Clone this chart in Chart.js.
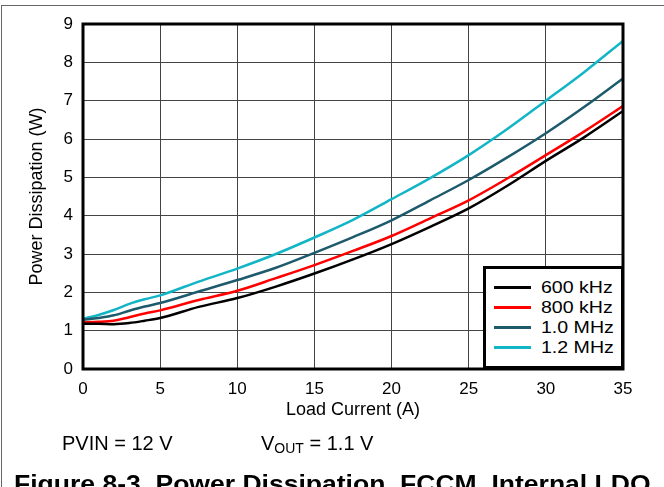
<!DOCTYPE html>
<html>
<head>
<meta charset="utf-8">
<script src="https://cdn.jsdelivr.net/npm/chart.js@4/dist/chart.umd.min.js"></script>
<style>
  body { margin: 0; background: #fff; }
  #wrap { position: relative; width: 664px; height: 487px; overflow: hidden; background: #fff;
          font-family: "Liberation Sans", Arial, sans-serif; color: #000; }
  #lineChart { position: absolute; left: 0; top: 0; }
  #frame { position: absolute; left: 1px; top: 5px; width: 700px; height: 500px;
           border-top: 1px solid #666; border-left: 1px solid #666; }
  #legendBox { position: absolute; left: 483px; top: 266px; width: 141px; height: 103px;
               box-sizing: border-box; border: 3px solid #000; background: #fff; }
  .row { position: absolute; left: 0; height: 20px; }
  .swatch { position: absolute; left: 8px; top: 8px; width: 37px; height: 3px; }
  .lbl { position: absolute; left: 55px; top: 0; font-size: 17px; line-height: 20px;
         white-space: nowrap; transform: scaleX(1.15); transform-origin: left center; }
  .note { position: absolute; top: 433px; font-size: 20px; line-height: 20px; white-space: nowrap; }
  #caption { position: absolute; left: 14px; top: 472px; font-size: 24px; line-height: 24px;
             font-weight: bold; white-space: nowrap; transform: scaleX(1.105); transform-origin: left top; }
</style>
</head>
<body>
<div id="wrap">
  <canvas id="lineChart" width="664" height="487"></canvas>
  <div id="frame"></div>
  <div id="legendBox"></div>
  <div class="note" style="left:62px">PVIN = 12 V</div>
  <div class="note" style="left:261px">V<span style="font-size:14px;position:relative;top:3px">OUT</span> = 1.1 V</div>
  <div id="caption">Figure 8-3. Power Dissipation, FCCM, Internal LDO</div>
</div>
<script>
const CHART = document.getElementById("lineChart");

// load current (A)
let current = [0, 1, 2, 3, 4, 5, 7.5, 10, 12.5, 15, 17.5, 20, 22.5, 25, 27.5, 30, 32.5, 35]
// power dissipation (W) per switching frequency
let p600k = [1.18, 1.18, 1.17, 1.20, 1.26, 1.33, 1.62, 1.85, 2.15, 2.49, 2.86, 3.26, 3.71, 4.19, 4.78, 5.43, 6.05, 6.73]
let p800k = [1.22, 1.23, 1.26, 1.35, 1.45, 1.53, 1.80, 2.04, 2.37, 2.71, 3.08, 3.47, 3.93, 4.40, 4.97, 5.58, 6.20, 6.86]
let p1000k = [1.28, 1.33, 1.40, 1.52, 1.63, 1.72, 2.02, 2.32, 2.64, 3.03, 3.44, 3.88, 4.40, 4.93, 5.52, 6.15, 6.84, 7.58]
let p1200k = [1.31, 1.41, 1.54, 1.70, 1.82, 1.92, 2.28, 2.62, 3.00, 3.43, 3.89, 4.43, 4.98, 5.58, 6.26, 7.00, 7.75, 8.56]

let seriesNames = ['600 kHz', '800 kHz', '1.0 MHz', '1.2 MHz']
let seriesColors = ['#000000', '#ff0000', '#1d5a6b', '#12b5c6']

let xTicks = [0, 5, 10, 15, 20, 25, 30, 35]
let yTicks = [0, 1, 2, 3, 4, 5, 6, 7, 8, 9]

const FONT = "'Liberation Sans', Arial, sans-serif";
Chart.defaults.font.family = FONT;
Chart.defaults.color = '#000';

const toPoints = (ys) => ys.map((y, i) => ({ x: current[i], y: y }));

const data = {
    datasets: [p600k, p800k, p1000k, p1200k].map((ys, i) => ({
        label: seriesNames[i],
        data: toPoints(ys),
        borderColor: seriesColors[i],
        backgroundColor: seriesColors[i],
        borderWidth: 2.5,
        pointRadius: 0,
        fill: false,
        cubicInterpolationMode: 'monotone',
    }))
};

// thick black frame round the plot area
const plotFrame = {
    id: 'plotFrame',
    afterDatasetsDraw(chart) {
        const { ctx, chartArea: a } = chart;
        ctx.save();
        ctx.strokeStyle = '#000';
        ctx.lineWidth = 3;
        ctx.strokeRect(a.left, a.top, a.right - a.left, a.bottom - a.top);
        ctx.restore();
    }
};

let lineChart = new Chart(CHART, {
    type: 'line',
    data: data,
    plugins: [plotFrame],
    options: {
        responsive: false,
        animation: false,
        layout: { padding: { left: 0, top: 24, right: 41, bottom: 62 } },
        plugins: { legend: { display: false }, tooltip: { enabled: false } },
        scales: {
            x: {
                type: 'linear',
                min: 0,
                max: 35,
                afterBuildTicks: (s) => { s.ticks = xTicks.map(v => ({ value: v })); },
                afterFit: (s) => { s.height = 56; },
                grid: { color: '#444', lineWidth: 1, drawTicks: false },
                border: { display: false },
                ticks: { font: { size: 17 }, padding: 10, maxRotation: 0 },
                title: { display: true, text: 'Load Current (A)', font: { size: 18 }, padding: { top: 0, bottom: 4 } }
            },
            y: {
                min: 0,
                max: 9,
                afterBuildTicks: (s) => { s.ticks = yTicks.map(v => ({ value: v })); },
                afterFit: (s) => { s.width = 83; },
                grid: { color: '#444', lineWidth: 1, drawTicks: false },
                border: { display: false },
                ticks: { font: { size: 17 }, padding: 10 },
                title: { display: true, text: 'Power Dissipation (W)', font: { size: 18 }, padding: { top: 26, bottom: 0 } }
            }
        }
    }
});

// legend box inside the plot, built from the datasets
const box = document.getElementById('legendBox');
lineChart.data.datasets.forEach((ds, i) => {
    const row = document.createElement('div');
    row.className = 'row';
    row.style.top = (8.5 + i * 20) + 'px';
    row.style.width = '135px';
    row.innerHTML = '<div class="swatch" style="background:' + ds.borderColor + '"></div>' +
                    '<div class="lbl">' + ds.label + '</div>';
    box.appendChild(row);
});
</script>
</body>
</html>
